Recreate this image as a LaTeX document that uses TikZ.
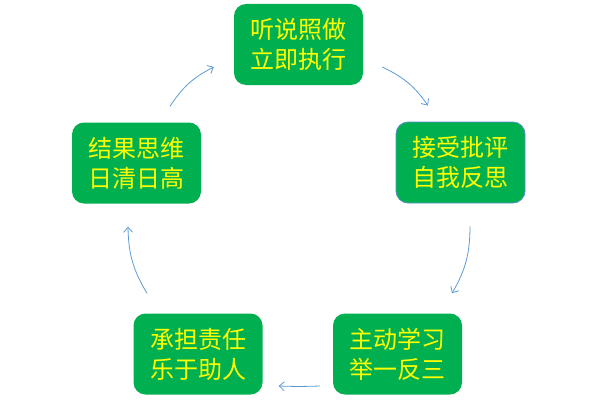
\documentclass[tikz,border=0pt]{standalone}
\usepackage{fontspec}
\usepackage{xcolor}
\usepackage{tikz}
\usetikzlibrary{arrows.meta,positioning}
\newfontfamily\cjk{Noto Sans CJK SC}
\definecolor{leaf}{HTML}{00B050}
\definecolor{lemon}{HTML}{FFFF00}
\definecolor{sky}{HTML}{5B9BD5}
\definecolor{rim}{HTML}{5B8FC9}

\begin{document}
\begin{tikzpicture}[x=1pt,y=-1pt,every node/.style={font=\cjk\fontsize{24}{30}\selectfont,align=center,text=lemon},stepbox/.style={fill=leaf,rounded corners=12pt,minimum width=129pt,minimum height=81pt,inner sep=0pt},flow/.style={-{Straight Barb[length=5pt,width=9pt]},sky,line width=0.8pt}]
\useasboundingbox (0,0) rectangle (597,404);
\node[stepbox] (listen) at (298.5,44.5) {听说照做\\立即执行};
\node[stepbox,draw=rim,line width=0.8pt] (accept) at (460.5,162.5) {接受批评\\自我反思};
\node[stepbox] (learn) at (397.5,354) {主动学习\\举一反三};
\node[stepbox] (help) at (198,354) {承担责任\\乐于助人};
\node[stepbox] (result) at (136.5,163) {结果思维\\日清日高};
\draw[flow] ([xshift=19pt,yshift=-22.5pt]listen.east) to[bend left=15] ([xshift=-32.5pt,yshift=16pt]accept.north);
\draw[flow] ([xshift=9.5pt,yshift=-23pt]accept.south) to[bend left=15] ([xshift=54.5pt,yshift=20pt]learn.north);
\draw[flow] ([xshift=-13pt,yshift=-32pt]learn.west) to[bend left=2] ([xshift=16pt,yshift=-32pt]help.east);
\draw[flow] ([xshift=-51pt,yshift=20pt]help.north) to[bend left=15] ([xshift=-8.5pt,yshift=-23pt]result.south);
\draw[flow] ([xshift=33.5pt,yshift=16pt]result.north) to[bend left=15] ([xshift=-20pt,yshift=-22.5pt]listen.west);
\end{tikzpicture}
\end{document}
